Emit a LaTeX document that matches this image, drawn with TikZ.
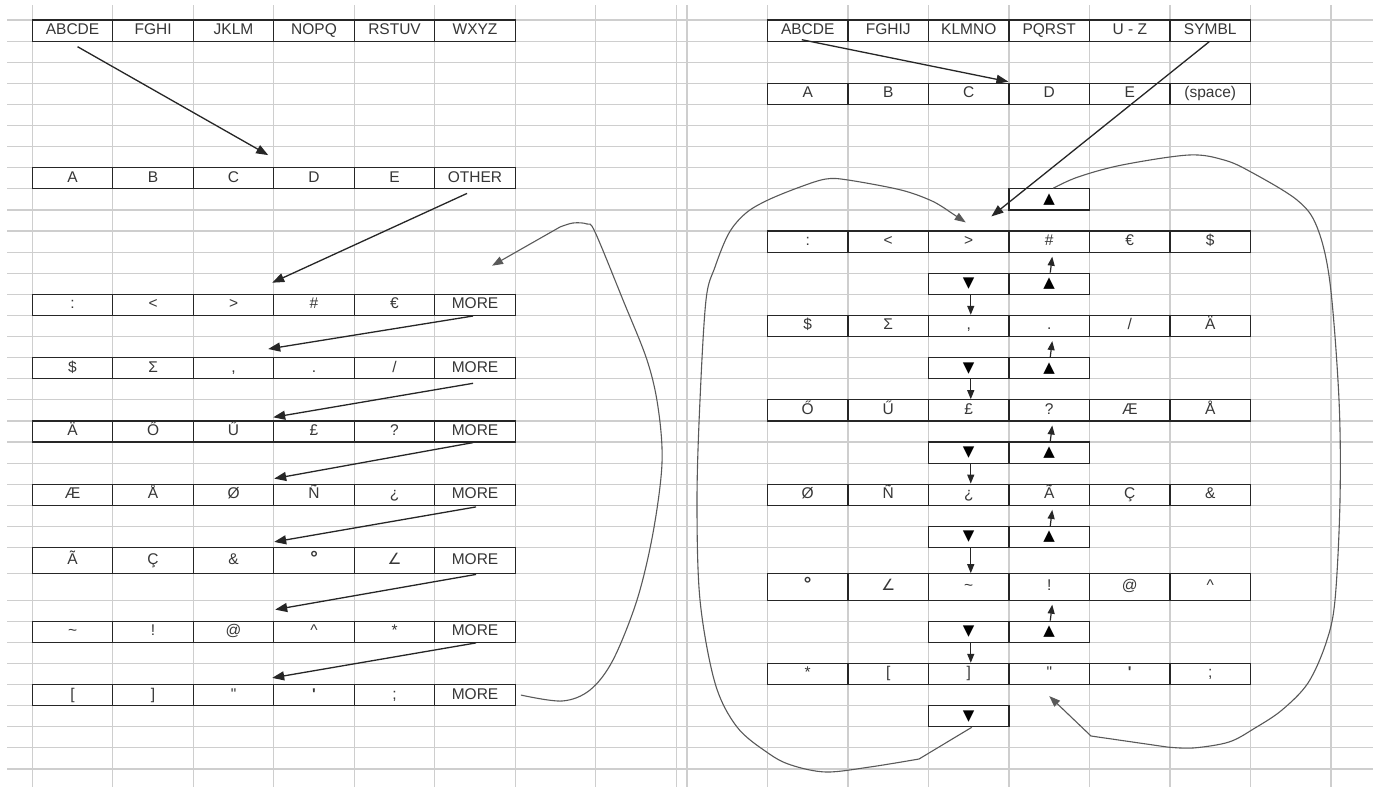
\documentclass[tikz,border=0pt]{standalone}
\usepackage{fontspec}
\setmainfont{Liberation Sans}
\newfontfamily\dejavu{DejaVu Sans}
\usepackage{tikz}
\usetikzlibrary{arrows.meta}
\definecolor{sheetGray}{RGB}{206,206,206}
\definecolor{inkGray}{RGB}{55,55,55}

\begin{document}
\begin{tikzpicture}[x=1pt, y=-1pt,
        font=\fontsize{15.5}{18}\selectfont,
        cell/.style={rectangle, draw=black!85, line width=1.2pt, text=inkGray, inner sep=0pt,
            minimum width=80.5pt, minimum height=21.1pt, text height=11pt, text depth=3pt},
        tri/.style={cell, text=black, font=\dejavu\fontsize{15}{17}\selectfont},
        sheet/.style={sheetGray, line width=1.2pt},
        arr/.style={-{Triangle[length=12pt,width=9pt]}, line width=1.3pt, black!85},
        sarr/.style={-{Triangle[length=9pt,width=7pt]}, line width=1.2pt, black!85},
        swing/.style={-{Triangle[length=11pt,width=8pt]}, line width=1.1pt, black!65}
    ]
    \fill[white] (0,0) rectangle (1373,787);
    \useasboundingbox (0,0) rectangle (1373,787);

    % spreadsheet grid
    \foreach \k in {0,...,25}
        \draw[sheet] (7,20+21.1*\k) -- (1373,20+21.1*\k);
    \foreach \y in {573.8,600.1,621.2,642.3,663.4,684.5,705.6,726.7,747.8,768.9}
        \draw[sheet] (7,\y) -- (1373,\y);
    \foreach \j in {0,...,8}{
        \draw[sheet] (32.3+80.5*\j,5) -- (32.3+80.5*\j,787);
        \draw[sheet] (687+80.5*\j,5) -- (687+80.5*\j,787);
    }

    % left sheet: rows of cells
    \foreach \k/\y/\h/\items in {
        0/30.55/21.1/{ABCDE,FGHI,JKLM,NOPQ,RSTUV,WXYZ},
        7/178.25/21.1/{A,B,C,D,E,OTHER},
        13/304.85/21.1/{:,<,>,\#,€,MORE},
        16/368.15/21.1/{\$,Σ,{,},.,/,MORE},
        19/431.45/21.1/{Ä,Ő,Ű,£,?,MORE},
        22/494.75/21.1/{Æ,Å,Ø,Ñ,¿,MORE},
        25/560.65/26.3/{Ã,Ç,\&,{\fontsize{19}{19}\selectfont\textbf{°}},{\dejavu ∠},MORE},
        28/631.75/21.1/{\textasciitilde,!,@,\textasciicircum,*,MORE},
        31/695.05/21.1/{{[},{]},\textquotedbl,\textbf{\textquotesingle},;,MORE}}
        \foreach \lab [count=\j from 0] in \items
            \node[cell, minimum height=\h pt] (L\k-\j) at (72.55+80.5*\j,\y) {\lab};

    % right sheet: rows of cells
    \foreach \k/\y/\h/\items in {
        0/30.55/21.1/{ABCDE,FGHIJ,KLMNO,PQRST,U - Z,SYMBL},
        3/93.85/21.1/{A,B,C,D,E,(space)},
        10/241.55/21.1/{:,<,>,\#,€,\$},
        14/325.95/21.1/{\$,Σ,{,},.,/,Ä},
        18/410.35/21.1/{Ő,Ű,£,?,Æ,Å},
        22/494.75/21.1/{Ø,Ñ,¿,Ã,Ç,\&},
        26/586.95/26.3/{{\fontsize{19}{19}\selectfont\textbf{°}},{\dejavu ∠},\textasciitilde,!,@,\textasciicircum},
        30/673.95/21.1/{*,{[},{]},\textquotedbl,\textbf{\textquotesingle},;}}
        \foreach \lab [count=\j from 0] in \items
            \node[cell, minimum height=\h pt] (R\k-\j) at (807.75+80.5*\j,\y) {\lab};

    % scroll buttons
    \node[tri] (U8) at (1049.25,199.35) {▲};
    \foreach \k/\y in {12/283.75,16/368.15,20/452.55,24/536.95,28/631.75}{
        \node[tri] (D\k) at (968.75,\y) {▼};
        \node[tri] (U\k) at (1049.25,\y) {▲};
    }
    \node[tri] (D32) at (968.75,716.15) {▼};

    % left sheet arrows
    \draw[arr] ([xshift=5pt,yshift=-5pt]L0-0.south) -- ([xshift=-5pt,yshift=12pt]L7-3.north west);
    \draw[arr] ([xshift=-8pt,yshift=-4pt]L7-5.south) -- ([xshift=-1pt,yshift=11pt]L13-3.north west);
    \foreach \a/\b/\sx/\sy/\tx/\ty in {13/16/-2/0/-5/8, 16/19/-2/4/0/3, 19/22/-2/0/1/5,
                                     22/25/1/1/1/5, 25/28/1/0/2/11, 28/31/1/0/-1/6}
        \draw[arr] ([xshift=\sx pt,yshift=-\sy pt]L\a-5.south) -- ([xshift=\tx pt,yshift=\ty pt]L\b-3.north west);
    \draw[swing] plot[smooth, tension=0.55] coordinates {([xshift=5pt]L31-5.east) (562,701) (590,690)
        (613,660) (637,600) (653,533) (662,463) (658,407) (647,360) (623,300) (595,232) (587,224)
        (573,223) (560,227)} -- ([xshift=17pt,yshift=28pt]L13-5.north);

    % right sheet arrows
    \draw[arr] ([xshift=-6pt,yshift=2pt]R0-0.south) -- ([yshift=1pt]R3-3.north west);
    \draw[arr] ([xshift=-1pt]R0-5.south) -- ([xshift=-17pt,yshift=14pt]R10-3.north west);
    \foreach \k [evaluate=\k as \p using int(\k-2), evaluate=\k as \n using int(\k+2)] in {12,16,20,24,28}{
        \draw[sarr] ([xshift=1pt]U\k.north) -- ([xshift=3pt,yshift=-4pt]R\p-3.south);
        \draw[sarr] ([xshift=2pt]D\k.south) -- ([xshift=2pt]R\n-2.north);
    }
    \draw[swing] plot[smooth, tension=0.55] coordinates {([xshift=4pt]U8.north) (1078,177) (1122,165)
        (1189,155) (1224,160) (1251,172) (1297,200) (1317,227) (1330,283) (1339,400) (1340,500)
        (1335,600) (1326,643) (1308,683) (1282,710) (1255,728) (1229,742) (1193,748) (1167,747)}
        -- (1091,736) -- ([yshift=-11pt]R30-3.south);
    \draw[swing] ([xshift=3pt]D32.south) -- plot[smooth, tension=0.55] coordinates {(919,759) (870,767)
        (826,772) (791,765) (768,753) (737,727) (715,683) (700,600) (697,500) (700,400) (706,300)
        (715,267) (729,233) (746,213) (768,200) (800,187) (826,179) (848,180) (901,190) (932,201)
        (950,212)} -- ([xshift=-3pt,yshift=8pt]R10-2.north);
\end{tikzpicture}
\end{document}
